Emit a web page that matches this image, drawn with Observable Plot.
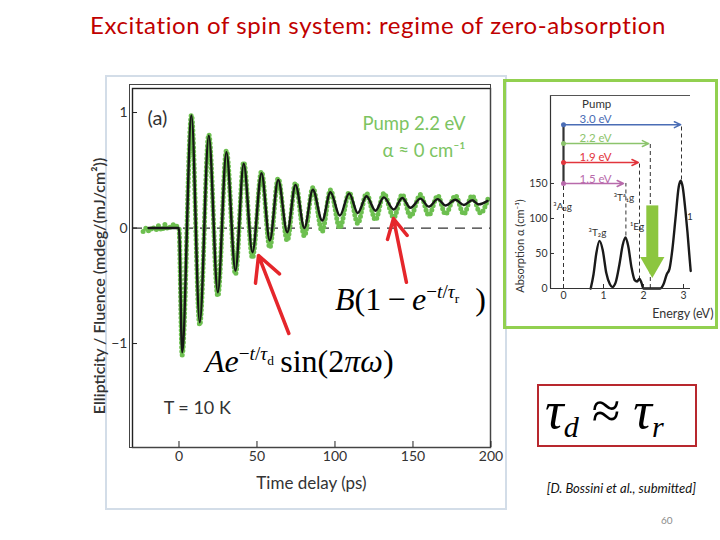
<!DOCTYPE html>
<html><head><meta charset="utf-8">
<script src="https://cdn.jsdelivr.net/npm/d3@7"></script>
<script src="https://cdn.jsdelivr.net/npm/@observablehq/plot@0.6"></script>
<style>
body{margin:0;background:#fff;}
#slide{position:relative;width:720px;height:540px;overflow:hidden;font-family:Lato,"Open Sans",sans-serif;background:#fff;}
.abs{position:absolute;}
.math{font-family:"Liberation Serif","DejaVu Serif",serif;font-size:32px;line-height:32px;color:#000;white-space:nowrap;}
.sup{position:relative;top:-0.62em;font-size:0.6em;}
.sub{position:relative;top:0.35em;font-size:0.7em;}
</style></head><body><div id="slide">
<div class="abs" style="left:0;top:11px;width:756px;text-align:center;color:#c00000;font-size:24px;letter-spacing:0.6px;line-height:28px;">Excitation of spin system: regime of zero-absorption</div>
<div class="abs" style="left:105px;top:75px;width:398px;height:431px;border:2px solid #d3dde8;"></div>
<div class="abs" id="main" style="left:85px;top:75px;"></div>
<div class="abs" style="left:503px;top:79px;width:209px;height:244px;border:3px solid #92d050;"></div>
<div class="abs" id="inset" style="left:505px;top:82px;"></div>
<div class="abs math" style="left:335px;top:283px;"><i>B</i>(1&#8201;−&#8201;<i>e</i><span class="sup">−<i>t</i>/<i>τ</i><span class="sub">r</span></span>&#8194;)</div>
<div class="abs math" style="left:205px;top:345px;"><i>Ae</i><span class="sup">−<i>t</i>/<i>τ</i><span class="sub">d</span></span>&#8201;sin(2<i>πω</i>)</div>
<div class="abs" style="left:537px;top:384px;width:156px;height:59px;border:2px solid #b8282e;"></div>
<div class="abs" style="left:545px;top:382px;font-family:'Liberation Serif',serif;font-style:italic;font-size:52px;line-height:58px;white-space:nowrap;">τ<span style="font-size:0.58em;position:relative;top:0.3em;">d</span><span style="font-style:normal;"> ≈ </span>τ<span style="font-size:0.58em;position:relative;top:0.3em;">r</span></div>
<div class="abs" style="right:24px;top:480px;font-style:italic;font-size:13px;line-height:16px;color:#111;white-space:nowrap;">[D. Bossini et al., submitted]</div>
<div class="abs" style="left:661px;top:514px;font-size:10px;color:#8c8c8c;">60</div>
</div>
<script>
// ---------- main chart data (Ellipticity / Fluence vs time delay) ----------
const fitTime  = [-19.5, 0, 2.0, 8.0, 13.3, 19.1, 24.9, 30.4, 36.2, 41.5, 47.1, 52.9, 58.2, 63.6, 69.4, 74.7, 80.4, 85.8, 91.8, 97.1, 103.1, 109.1, 114.6, 120.2, 126.0, 131.3, 137.7, 143.1, 148.4, 154.8, 160.1, 165.9, 170.8, 177.2, 182.6, 187.9, 192.2, 197.8];
const fitValue = [0, 0, -1.075, 0.974, -0.816, 0.80, -0.556, 0.656, -0.368, 0.556, -0.21, 0.474, -0.108, 0.417, -0.036, 0.374, 0.0, 0.331, 0.065, 0.31, 0.108, 0.30, 0.13, 0.275, 0.15, 0.265, 0.16, 0.26, 0.175, 0.255, 0.185, 0.25, 0.195, 0.245, 0.20, 0.24, 0.205, 0.235];
const dataTime  = [-23, -21, -19, -17, -15, -13, -11, -9, -7, -5, -3, -1, 0, 2.0, 8.0, 13.3, 19.1, 24.9, 30.4, 36.2, 41.5, 47.1, 52.9, 58.2, 63.6, 69.4, 74.7, 80.4, 85.8, 91.8, 97.1, 103.1, 109.1, 114.6, 120.2, 126.0, 131.3, 137.7, 143.1, 148.4, 154.8, 160.1, 165.9, 170.8, 177.2, 182.6, 187.9, 193.2, 198.5];
const dataValue = [-0.03, 0.0, -0.03, 0.01, -0.02, 0.02, -0.02, 0.03, -0.01, 0.02, 0.03, 0.01, 0.0, -1.10, 0.98, -0.84, 0.81, -0.59, 0.67, -0.40, 0.57, -0.26, 0.49, -0.17, 0.43, -0.11, 0.39, -0.07, 0.35, -0.03, 0.33, 0.0, 0.31, 0.04, 0.30, 0.07, 0.30, 0.09, 0.29, 0.10, 0.29, 0.11, 0.28, 0.12, 0.28, 0.12, 0.28, 0.13, 0.27];
const timeTicks = [0, 50, 100, 150, 200];
const timeTickLabels = ["0", "50", "100", "150", "200"];
const ellTicks = [-1, 0, 1];
const ellTickLabels = ["−1", "0", "1"];
const timeDomain = [-29.8, 199.7];
const ellDomain = [-1.90, 1.208];
// annotation anchors (data coordinates)
const labelTexts = ["(a)", "Pump 2.2 eV", "α ≈ 0 cm⁻¹", "T = 10 K"];
const labelTime  = [-20.2, 183.7, 183.7, 11.7];
const labelValue = [0.948, 0.902, 0.667, -1.563];
const arrowFromTime  = [70.4, 145.8];
const arrowFromValue = [-0.913, -0.47];
const arrowToTime    = [51.0, 137.5];
const arrowToValue   = [-0.238, 0.082];

// ---------- inset data (absorption spectrum) ----------
const energy = [0.68, 0.75, 0.82, 0.9, 0.98, 1.07, 1.16, 1.22, 1.3, 1.4, 1.48, 1.55, 1.62, 1.7, 1.78, 1.84, 1.9, 1.95, 2.0, 2.1, 2.2, 2.3, 2.42, 2.5, 2.58, 2.65, 2.72, 2.8, 2.88, 2.93, 2.98, 3.05, 3.1, 3.15, 3.18];
const absorption = [0, 20, 50, 68, 55, 22, 6, 2, 8, 35, 62, 73, 60, 30, 12, 10, 14, 8, 0, 0, 0, 0, 0, 6, 20, 28, 55, 100, 145, 154, 145, 110, 80, 45, 25];
const energyTicks = [0, 1, 2, 3];
const absTicks = [0, 50, 100, 150];
const energyDomain = [-0.325, 3.175];
const absDomain = [0, 275.7];
const pumpLabels = ["3.0 eV", "2.2 eV", "1.9 eV", "1.5 eV"];
const pumpEnergy = [2.93, 2.13, 1.87, 1.5];
const pumpLevel  = [234, 207, 180, 150];
const pumpLabelLevel = [241, 214, 187, 156];
const pumpColors = ["#4a6db5", "#8cc46c", "#e2353c", "#b86aab"];
const dashEnergy = [0, 1.56, 1.9, 2.17, 2.95];
const dashTop    = [150, 150, 180, 207, 234];
const dashBottom = [0, 75, 12, 0, 155];
const stateLabels = ["³A₂g", "³T₂g", "³Tᵃ₁g", "¹Eg", "1"];
const stateEnergy = [-0.02, 0.85, 1.51, 1.84, 3.16];
const stateLevel  = [116, 79, 130, 88, 102];
const bigArrowEnergy = [2.22];
const bigArrowTop = [118];
const bigArrowBase = [44];
const bigArrowTip = [35];

// ---------- main chart ----------
const W = 422, H = 435, mL = 47, mT = 13, mR = 17, mB = 63;
const innerW = W - mL - mR, innerH = H - mT - mB;
const yMap = new Map(ellTicks.map((t, i) => [t, ellTickLabels[i]]));
const xMap = new Map(timeTicks.map((t, i) => [t, timeTickLabels[i]]));
const fitIdx = d3.range(fitTime.length);
const dataIdx = d3.range(dataTime.length);

const main = Plot.plot({
  width: W, height: H, marginLeft: mL, marginTop: mT, marginRight: mR, marginBottom: mB,
  x: {domain: timeDomain},
  y: {domain: ellDomain},
  style: {fontFamily: "Lato, 'Open Sans', sans-serif", fontSize: "14px", color: "#333", background: "transparent", overflow: "visible"},
  marks: [
    Plot.ruleY([0], {stroke: "#333", strokeWidth: 1.2, strokeDasharray: "10,7"}),
    Plot.line(dataIdx, {x: i => dataTime[i], y: i => dataValue[i], curve: "monotone-x", stroke: "#6dbf50", strokeWidth: 5, strokeDasharray: "0,4.2", strokeLinecap: "round"}),
    Plot.line(fitIdx, {x: i => fitTime[i], y: i => fitValue[i], curve: "monotone-x", stroke: "#161616", strokeWidth: 2.4}),
    Plot.frame({stroke: "#222", strokeWidth: 1.4}),
    Plot.frame({stroke: "#444", strokeWidth: 1, insetTop: -4, insetLeft: -3}),
    Plot.ruleX(timeTicks, {stroke: "#222", insetTop: innerH - 6}),
    Plot.ruleY(ellTicks, {stroke: "#222", insetRight: innerW - 5}),
    Plot.axisX(timeTicks, {tickSize: 0, tickPadding: 4, fontSize: 14, tickFormat: d => xMap.get(d), label: null}),
    Plot.axisY(ellTicks, {tickSize: 0, tickPadding: 5, fontSize: 14, tickFormat: d => yMap.get(d), label: null}),
    Plot.text(["Time delay (ps)"], {frameAnchor: "bottom", dy: 36, lineAnchor: "middle", fontSize: 17, fill: "#333"}),
    Plot.text(["Ellipticity / Fluence (mdeg/(mJ/cm²))"], {frameAnchor: "left", textAnchor: "middle", rotate: -90, dx: -33, dy: 18, lineAnchor: "middle", fontSize: 16, fontWeight: 600, fill: "#333"}),
    Plot.arrow(arrowFromTime.map((_, i) => i), {x1: i => arrowFromTime[i], y1: i => arrowFromValue[i], x2: i => arrowToTime[i], y2: i => arrowToValue[i], stroke: "#e5262b", strokeWidth: 3.5, headLength: 13, headAngle: 55}),
    Plot.text([0], {x: labelTime[0], y: labelValue[0], text: () => labelTexts[0], textAnchor: "start", fontSize: 20, fill: "#333"}),
    Plot.text([1, 2], {x: i => labelTime[i], y: i => labelValue[i], text: i => labelTexts[i], textAnchor: "end", fontSize: 18.5, fill: "#7cc462"}),
    Plot.text([3], {x: i => labelTime[i], y: i => labelValue[i], text: i => labelTexts[i], fontSize: 18, fill: "#333"})
  ]
});
document.getElementById("main").appendChild(main);

// ---------- inset chart ----------
const iW = 212, iH = 246, imL = 45, imT = 13, imR = 27, imB = 40;
const iInW = iW - imL - imR, iInH = iH - imT - imB;
const eIdx = d3.range(energy.length);
const pIdx = d3.range(pumpLabels.length);
const dIdx = d3.range(dashEnergy.length);
const sIdx = d3.range(stateLabels.length);

const inset = Plot.plot({
  width: iW, height: iH, marginLeft: imL, marginTop: imT, marginRight: imR, marginBottom: imB,
  x: {domain: energyDomain},
  y: {domain: absDomain},
  style: {fontFamily: "Lato, 'Open Sans', sans-serif", fontSize: "11px", color: "#333", background: "transparent", overflow: "visible"},
  marks: [
    Plot.ruleX(dIdx, {x: i => dashEnergy[i], y1: i => dashBottom[i], y2: i => dashTop[i], stroke: "#333", strokeWidth: 1, strokeDasharray: "4,3"}),
    Plot.ruleX([0], {x: 0, y1: pumpLevel[3], y2: pumpLevel[0], stroke: "#333", strokeWidth: 2.2}),
    Plot.arrow(pIdx, {x1: 0, y1: i => pumpLevel[i], x2: i => pumpEnergy[i], y2: i => pumpLevel[i], stroke: i => pumpColors[i], strokeWidth: 1.5, headLength: 7, headAngle: 50}),
    Plot.dot(pIdx, {x: 0, y: i => pumpLevel[i], r: 2.5, fill: i => pumpColors[i]}),
    Plot.text(pIdx, {x: 0.8, y: i => pumpLabelLevel[i], text: i => pumpLabels[i], fill: i => pumpColors[i], fontSize: 11.5}),
    Plot.text(["Pump"], {x: 0.83, y: 263, fontSize: 11.5, fill: "#333"}),
    Plot.line(eIdx, {x: i => energy[i], y: i => absorption[i], curve: "monotone-x", stroke: "#1a1a1a", strokeWidth: 2.4}),
    Plot.ruleX([energyDomain[0]], {stroke: "#333", strokeWidth: 1.2}),
    Plot.ruleY([absDomain[0]], {stroke: "#333", strokeWidth: 1.2}),
    Plot.ruleY([absDomain[1]], {stroke: "#555", strokeWidth: 1}),
    Plot.ruleX(energyTicks, {stroke: "#333", insetTop: iInH - 4}),
    Plot.ruleY(absTicks, {stroke: "#333", insetRight: iInW - 4}),
    Plot.axisX(energyTicks, {tickSize: 0, tickPadding: 3, fontSize: 10.5, label: null}),
    Plot.axisY(absTicks, {tickSize: 0, tickPadding: 3, fontSize: 10.5, label: null}),
    Plot.ruleX([0], {x: bigArrowEnergy[0], y1: bigArrowBase[0], y2: bigArrowTop[0], stroke: "#8cc63f", strokeWidth: 12}),
    Plot.dot([0], {x: bigArrowEnergy[0], y: bigArrowTip[0], symbol: "triangle", rotate: 180, r: 9, fill: "#8cc63f"}),
    Plot.text(sIdx, {x: i => stateEnergy[i], y: i => stateLevel[i], text: i => stateLabels[i], fontSize: 10, fill: "#333"}),
    Plot.text(["Absorption α (cm⁻¹)"], {frameAnchor: "left", textAnchor: "middle", rotate: -90, dx: -30, dy: 54, lineAnchor: "middle", fontSize: 11, fill: "#333"}),
    Plot.text(["Energy (eV)"], {frameAnchor: "bottom-right", dx: 23, dy: 25, textAnchor: "end", lineAnchor: "middle", fontSize: 12.5, fill: "#333"})
  ]
});
document.getElementById("inset").appendChild(inset);
</script>
</body></html>
